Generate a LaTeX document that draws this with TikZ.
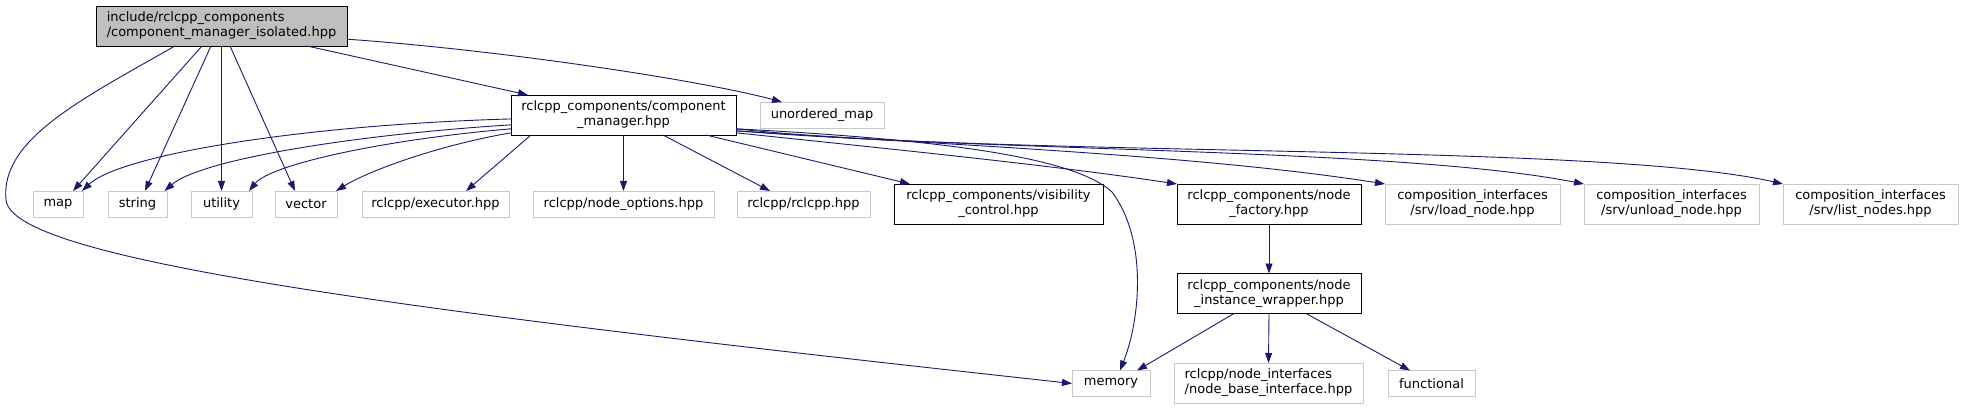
\documentclass[tikz,border=0pt]{standalone}
\usepackage{fontspec}
\setmainfont{DejaVu Sans}
\usetikzlibrary{arrows.meta}
\definecolor{edgeblue}{HTML}{191970}
\definecolor{boxgrey}{HTML}{BFBFBF}
\definecolor{extgrey}{HTML}{C8C8C8}
\begin{document}
\begin{tikzpicture}[
  x=1pt,
  y=-1pt,
  >={Triangle[length=10pt,width=7pt]},
  box/.style={rectangle, inner sep=0pt, outer sep=0pt, minimum height=26pt, line width=0.9pt, font=\fontsize{13}{15}\selectfont, align=center},
  hdr/.style={box, draw=black, fill=boxgrey, minimum height=40pt, align=left},
  doc/.style={box, draw=black, fill=white, minimum height=40pt},
  ext/.style={box, draw=extgrey, fill=white},
  link/.style={->, draw=edgeblue, line width=0.9pt}
]
  \fill[white] (0,0) rectangle (1963,409);
  \useasboundingbox (0,0) rectangle (1963,409);

  \node[hdr, minimum width=251pt] (iso) at (221.5,26) {include/rclcpp\_components\\/component\_manager\_isolated.hpp};
  \node[doc, minimum width=225pt] (mgr) at (623.5,115) {rclcpp\_components/component\\\_manager.hpp};
  \node[ext, minimum width=124pt] (umap) at (822,115) {unordered\_map};

  \node[ext, minimum width=50pt] (map) at (58,204) {map};
  \node[ext, minimum width=59pt] (str) at (137.5,204) {string};
  \node[ext, minimum width=61pt] (util) at (221.5,204) {utility};
  \node[ext, minimum width=62pt] (vec) at (306,204) {vector};
  \node[ext, minimum width=147pt] (exec) at (435.5,204) {rclcpp/executor.hpp};
  \node[ext, minimum width=181pt] (nopt) at (623.5,204) {rclcpp/node\_options.hpp};
  \node[ext, minimum width=133pt] (rcl) at (803.5,204) {rclcpp/rclcpp.hpp};
  \node[doc, minimum width=209pt] (vis) at (998.5,204) {rclcpp\_components/visibility\\\_control.hpp};
  \node[doc, minimum width=184pt] (fac) at (1269,204) {rclcpp\_components/node\\\_factory.hpp};
  \node[ext, minimum width=175pt, minimum height=40pt] (load) at (1472.5,204) {composition\_interfaces\\/srv/load\_node.hpp};
  \node[ext, minimum width=175pt, minimum height=40pt] (unload) at (1671.5,204) {composition\_interfaces\\/srv/unload\_node.hpp};
  \node[ext, minimum width=175pt, minimum height=40pt] (list) at (1870.5,204) {composition\_interfaces\\/srv/list\_nodes.hpp};

  \node[doc, minimum width=184pt] (wrap) at (1269,293.5) {rclcpp\_components/node\\\_instance\_wrapper.hpp};
  \node[ext, minimum width=78pt] (mem) at (1111,383.5) {memory};
  \node[ext, minimum width=189pt, minimum height=40pt, align=left] (nbase) at (1268.5,383) {rclcpp/node\_interfaces\\/node\_base\_interface.hpp};
  \node[ext, minimum width=87pt] (func) at (1431.5,383.5) {functional};

  \draw[link] ([xshift=-19.5pt]iso.south) -- ([xshift=15pt]map.north);
  \draw[link] ([xshift=-10.5pt]iso.south) -- ([xshift=7.5pt]str.north);
  \draw[link] (iso.south) -- (util.north);
  \draw[link] ([xshift=8.5pt]iso.south) -- ([xshift=-11pt]vec.north);
  \draw[link] ([xshift=85.5pt]iso.south) -- ([xshift=-95.5pt]mgr.north);
  \draw[link] (iso.-6) .. controls (500,50) and (700,80) .. ([xshift=-40pt]umap.north);
  \draw[link] ([xshift=-46.5pt]iso.south) .. controls (80,100) and (0,140) .. (6,200) .. controls (12,260) and (400,310) .. (mem.west);

  \draw[link] (mgr.182.5) .. controls (300,125) and (120,155) .. ([xshift=24pt]map.north);
  \draw[link] (mgr.185) .. controls (350,135) and (200,160) .. ([xshift=27pt]str.north);
  \draw[link] (mgr.187) .. controls (380,140) and (270,165) .. ([xshift=27.5pt]util.north);
  \draw[link] (mgr.189) .. controls (440,145) and (370,170) .. ([xshift=30pt]vec.north);
  \draw[link] ([xshift=-92.5pt]mgr.south) -- ([xshift=30.5pt]exec.north);
  \draw[link] (mgr.south) -- (nopt.north);
  \draw[link] ([xshift=39.5pt]mgr.south) -- ([xshift=-33.5pt]rcl.north);
  \draw[link] ([xshift=82.5pt]mgr.south) -- ([xshift=-88.5pt]vis.north);
  \draw[link] (mgr.-9) .. controls (900,150) and (1050,165) .. (fac.north west);
  \draw[link] (mgr.-8.5) .. controls (950,145) and (1200,155) .. (load.north west);
  \draw[link] (mgr.-8) .. controls (1000,152) and (1400,148) .. (unload.north west);
  \draw[link] (mgr.-7.5) .. controls (1000,158) and (1600,142) .. (list.north west);
  \draw[link] (mgr.-7) .. controls (950,140) and (1075,158) .. (1112,192) .. controls (1148,240) and (1140,320) .. ([xshift=9pt]mem.north);

  \draw[link] (fac.south) -- (wrap.north);
  \draw[link] ([xshift=-35pt]wrap.south) -- ([xshift=26pt]mem.north);
  \draw[link] (wrap.south) -- (nbase.north);
  \draw[link] ([xshift=37pt]wrap.south) -- ([xshift=-21.5pt]func.north);
\end{tikzpicture}
\end{document}
